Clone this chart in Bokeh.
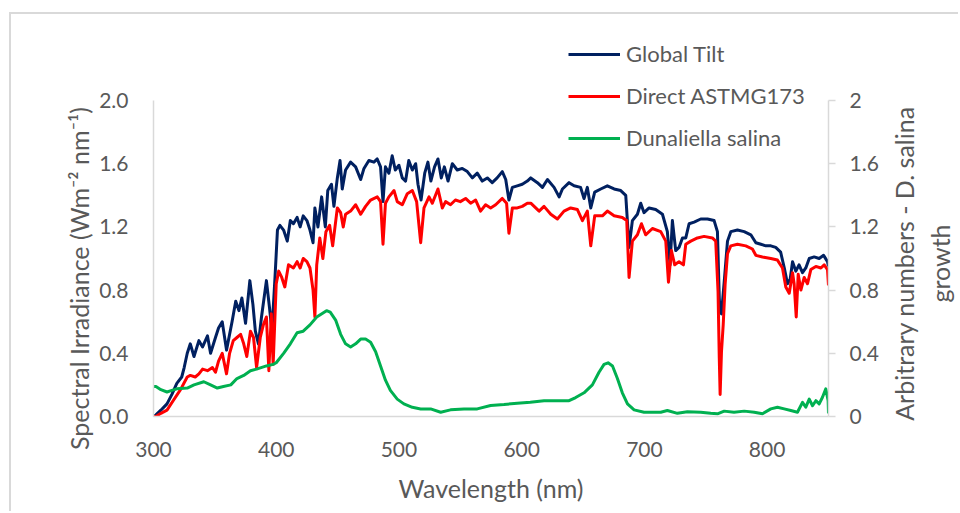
import math
from bokeh.plotting import figure
from bokeh.models import (Range1d, LinearAxis, FixedTicker, Legend, LegendItem, Label,
                          CustomJSTickFormatter)
from bokeh.embed import file_html
from bokeh.resources import INLINE

# Solar spectra (W m^-2 nm^-1) and D. salina growth response (arbitrary units)
wl_global = [300, 302, 306, 311, 315, 319, 323, 325, 327.5, 330, 333, 337, 340, 344, 346.5,
             350.5, 353, 356, 359.5, 364, 367, 369.6, 372, 375, 378.5, 381, 383, 385.5, 388,
             392, 394.5, 396.5, 399, 401, 403, 406, 409, 411.5, 414, 417, 419.5, 422, 425,
             427.5, 430, 431.5, 434, 437, 440, 442, 445, 447, 449.8, 452, 453.8, 456.5, 460.6,
             464.7, 468.8, 471.5, 475.5, 479.6, 482.3, 485, 487, 489, 491.8, 494.5, 497, 500,
             502.7, 505.4, 508, 510.9, 513.6, 515.5, 518, 521, 523.6, 526, 529, 531.8, 534.5,
             537, 540, 543.5, 547.5, 551.6, 555.7, 559.8, 563.8, 567.9, 572, 576, 580, 584.2,
             587, 589.6, 592.4, 596.4, 600.5, 604.6, 607.4, 612.8, 616.9, 621, 626.4, 630.5,
             633.2, 638.6, 642.7, 648, 650.8, 653.5, 656.3, 659.5, 664.4, 669.8, 675.3, 680.7,
             684.8, 687.5, 690.2, 694.3, 697, 699.7, 703.8, 709.2, 714.7, 718.7, 720.9, 722.8,
             725.5, 728.2, 731, 733.7, 736.4, 740.5, 745.9, 751.4, 756.8, 759.5, 761, 761.7,
             762.8, 765, 767.7, 770.4, 775.8, 781.3, 786.7, 790.8, 794.9, 799, 803, 807, 811,
             814, 816.6, 818.8, 820.7, 823.4, 826, 828.8, 831.5, 834.3, 838.3, 842.4, 846,
             849.2, 850]
global_tilt = [0.00, 0.01, 0.04, 0.08, 0.14, 0.21, 0.25, 0.31, 0.40, 0.46, 0.38, 0.48, 0.44,
               0.51, 0.40, 0.50, 0.56, 0.60, 0.42, 0.60, 0.73, 0.67, 0.75, 0.59, 0.86, 0.71,
               0.54, 0.46, 0.63, 0.86, 0.69, 0.54, 0.88, 1.18, 1.21, 1.18, 1.11, 1.24, 1.22,
               1.26, 1.20, 1.27, 1.24, 1.18, 1.10, 1.32, 1.20, 1.39, 1.20, 1.43, 1.47, 1.33,
               1.51, 1.62, 1.44, 1.56, 1.61, 1.58, 1.50, 1.57, 1.62, 1.61, 1.63, 1.58, 1.36,
               1.58, 1.54, 1.65, 1.56, 1.59, 1.51, 1.49, 1.62, 1.56, 1.60, 1.47, 1.37, 1.54,
               1.61, 1.49, 1.58, 1.63, 1.51, 1.58, 1.49, 1.60, 1.56, 1.57, 1.55, 1.51, 1.54,
               1.49, 1.51, 1.48, 1.51, 1.55, 1.50, 1.37, 1.45, 1.46, 1.47, 1.49, 1.51, 1.48,
               1.45, 1.50, 1.45, 1.39, 1.44, 1.48, 1.46, 1.45, 1.38, 1.45, 1.32, 1.42, 1.44,
               1.46, 1.44, 1.43, 1.40, 1.07, 1.24, 1.28, 1.35, 1.29, 1.32, 1.31, 1.28, 1.17,
               0.96, 1.24, 1.05, 1.07, 1.13, 1.13, 1.22, 1.23, 1.25, 1.25, 1.24, 1.17, 0.75,
               0.66, 0.65, 0.85, 1.11, 1.17, 1.18, 1.17, 1.15, 1.10, 1.09, 1.08, 1.08, 1.07,
               1.04, 0.94, 0.84, 0.87, 0.98, 0.92, 0.96, 0.91, 0.94, 1.00, 1.01, 1.00, 1.02,
               0.98, 0.95]

wl_direct = [300, 302, 306, 311, 316, 322, 327.5, 330, 334, 337, 340, 344, 348, 350.5, 353,
             356, 359.5, 362, 365, 368, 371, 373.5, 376, 379, 381.5, 384, 387, 389.5, 392, 394,
             396, 397.5, 400, 402, 404.5, 407, 410, 414, 417, 419.5, 422, 425, 427.5, 430,
             431.5, 433, 435.5, 438, 440.5, 443.5, 446, 449.8, 452.5, 454.6, 456.5, 460.6,
             464.7, 468.8, 472.8, 476.9, 482.3, 485, 487, 489, 491.8, 496, 498.6, 502.7, 506.8,
             510.9, 514.4, 517.7, 520.4, 524.5, 527.2, 531.8, 535.3, 538, 542, 546, 550, 554.3,
             558.4, 562.5, 566.5, 570.6, 574.7, 578.8, 584.2, 587.7, 589.6, 592.4, 596.4, 600.5,
             604.6, 607.4, 614.2, 618.2, 623.7, 629.1, 634.5, 639.9, 645.4, 649.5, 653.5, 656.3,
             659.5, 665.8, 669.8, 675.3, 682, 685.6, 687.5, 690.2, 694.3, 697.6, 701, 706.5,
             713.3, 717.4, 719.6, 722, 724.7, 728.2, 731.8, 733.7, 737.8, 743.2, 748.6, 755.4,
             758.1, 760, 761, 761.7, 762.8, 764.2, 765.8, 767.7, 770.4, 775.8, 782.6, 788,
             790.8, 796.2, 803, 808.4, 812.5, 815.2, 818, 820.7, 822, 823.7, 825.3, 827.5,
             830.2, 832.9, 835.6, 839.7, 843.8, 846.5, 849.2, 850]
direct_astmg173 = [0.00, 0.00, 0.02, 0.04, 0.10, 0.17, 0.25, 0.26, 0.25, 0.27, 0.30, 0.29,
                   0.31, 0.28, 0.35, 0.40, 0.27, 0.40, 0.48, 0.50, 0.52, 0.46, 0.38, 0.54,
                   0.50, 0.31, 0.50, 0.58, 0.63, 0.29, 0.65, 0.33, 0.84, 0.92, 0.88, 0.82,
                   0.96, 0.94, 0.98, 0.94, 1.00, 0.98, 0.94, 0.80, 0.63, 0.96, 1.13, 1.00,
                   1.17, 1.21, 1.08, 1.32, 1.29, 1.20, 1.28, 1.30, 1.34, 1.28, 1.33, 1.37,
                   1.39, 1.36, 1.09, 1.35, 1.39, 1.43, 1.36, 1.34, 1.41, 1.43, 1.36, 1.10,
                   1.32, 1.39, 1.35, 1.44, 1.32, 1.36, 1.34, 1.37, 1.36, 1.38, 1.35, 1.37,
                   1.30, 1.34, 1.32, 1.34, 1.38, 1.35, 1.16, 1.32, 1.32, 1.33, 1.35, 1.35,
                   1.30, 1.33, 1.28, 1.25, 1.30, 1.32, 1.31, 1.24, 1.30, 1.08, 1.27, 1.27,
                   1.30, 1.27, 1.26, 1.24, 0.88, 1.11, 1.15, 1.22, 1.15, 1.19, 1.17, 1.11,
                   0.85, 1.05, 0.96, 0.98, 0.96, 1.09, 1.11, 1.13, 1.14, 1.13, 1.11, 0.79,
                   0.37, 0.14, 0.41, 0.58, 0.84, 1.03, 1.08, 1.09, 1.08, 1.06, 1.02, 1.01,
                   1.00, 0.99, 0.94, 0.82, 0.78, 0.91, 0.84, 0.63, 0.90, 0.80, 0.88, 0.84,
                   0.93, 0.95, 0.94, 0.96, 0.93, 0.83]

wl_salina = [300, 302, 306, 311, 315, 319, 327.5, 333, 341, 346.5, 352, 357, 363, 368, 373.5,
             379, 384, 392, 397.5, 400, 406, 411.5, 417, 422, 427.5, 433, 441, 444, 448.4,
             452.5, 456.5, 460.6, 464.7, 468.8, 472.8, 476.9, 481, 485, 489, 493, 498.6, 504,
             510.9, 517.7, 525.8, 534, 542, 553, 563.8, 574.7, 585.6, 596.4, 607, 618.2, 629,
             638.6, 644, 650.8, 657.6, 663, 667.1, 670.4, 674, 678, 682, 686.2, 691.6, 699.7,
             713.3, 718.7, 726.9, 735, 745.9, 754, 759.5, 765, 773, 781.3, 789.5, 796.2, 803,
             808.4, 813.9, 819.3, 824.7, 828.8, 831.5, 834.3, 837, 839.7, 842.4, 845, 847.8,
             849.7, 850]
salina_growth = [0.19, 0.19, 0.17, 0.155, 0.165, 0.175, 0.18, 0.20, 0.22, 0.20, 0.18, 0.19,
                 0.20, 0.24, 0.26, 0.29, 0.30, 0.32, 0.33, 0.34, 0.40, 0.46, 0.53, 0.54, 0.58,
                 0.63, 0.67, 0.66, 0.61, 0.52, 0.46, 0.44, 0.46, 0.49, 0.49, 0.47, 0.41, 0.32,
                 0.23, 0.165, 0.11, 0.08, 0.058, 0.048, 0.048, 0.027, 0.042, 0.048, 0.048,
                 0.07, 0.076, 0.084, 0.09, 0.10, 0.10, 0.10, 0.12, 0.15, 0.20, 0.28, 0.33,
                 0.34, 0.32, 0.24, 0.15, 0.08, 0.042, 0.027, 0.027, 0.038, 0.02, 0.03, 0.027,
                 0.02, 0.017, 0.034, 0.027, 0.034, 0.027, 0.017, 0.048, 0.059, 0.048, 0.038,
                 0.027, 0.089, 0.059, 0.11, 0.068, 0.10, 0.08, 0.12, 0.175, 0.10, 0.02]

x_ticks = [300, 400, 500, 600, 700, 800]
y_ticks = [0.0, 0.4, 0.8, 1.2, 1.6, 2.0]

FONT = "Lato"
TXT = "#595959"
AX = "#d9d9d9"

# The frame reaches above the 2.0 gridline so that the legend (which sits partly
# above the plotted area) is not clipped; the axes themselves stop at 2.0.
FRAME_H = 376
AXIS_PX = 316
Y_TOP = 2.0 * FRAME_H / AXIS_PX

p = figure(width=949, height=499, output_backend="svg", toolbar_location=None,
           x_range=Range1d(300, 850), y_range=Range1d(0, Y_TOP),
           min_border_left=142, min_border_right=132, min_border_top=26, min_border_bottom=97,
           background_fill_color="white", border_fill_color="white")
# chart-area frame: light grey rule along the top and left edges
p.styles = {"margin-left": "9px", "margin-top": "12px",
            "border-left": "2px solid #d9d9d9", "border-top": "2px solid #d9d9d9"}
p.outline_line_color = None
p.grid.visible = False
p.extra_y_ranges = {"growth": Range1d(0, Y_TOP)}


def style_axis(ax):
    ax.axis_line_color = AX
    ax.axis_line_width = 1.5
    ax.major_label_text_font = FONT
    ax.major_label_text_font_size = "21px"
    ax.major_label_text_color = TXT
    ax.axis_label_text_font = FONT
    ax.axis_label_text_font_size = "25px"
    ax.axis_label_text_color = TXT
    ax.axis_label_text_font_style = "normal"
    ax.minor_tick_line_color = None


xa = p.xaxis[0]
style_axis(xa)
xa.ticker = FixedTicker(ticks=x_ticks)
xa.major_tick_line_color = None
xa.major_label_standoff = 19
xa.axis_label = "Wavelength (nm)"
xa.axis_label_standoff = 13

ya = p.yaxis[0]
style_axis(ya)
ya.bounds = (0, 2)
ya.ticker = FixedTicker(ticks=y_ticks)
ya.major_tick_line_color = None
ya.major_label_standoff = 19
ya.formatter = CustomJSTickFormatter(code="return tick.toFixed(1);")

ra = LinearAxis(y_range_name="growth")
style_axis(ra)
ra.bounds = (0, 2)
ra.ticker = FixedTicker(ticks=y_ticks)
ra.major_tick_line_color = AX
ra.major_tick_line_width = 1.5
ra.major_tick_out = 7
ra.major_tick_in = 0
ra.major_label_standoff = 14
ra.formatter = CustomJSTickFormatter(code="return String(parseFloat(tick.toFixed(1)));")
p.add_layout(ra, "right")

# axis titles, both reading bottom-to-top; set in the side panels beside each axis
irradiance_title = Label(x=12, y=138, x_units="screen", y_units="screen",
                         text="Spectral Irradiance (Wm\u207b\u00b2 nm\u207b\u00b9)",
                         angle=math.pi / 2, text_align="center", text_baseline="middle",
                         text_font=FONT, text_font_size="25px", text_color=TXT)
p.add_layout(irradiance_title, "left")

growth_title = Label(x=40, y=153, x_units="screen", y_units="screen",
                     text="Arbitrary numbers - D. salina\ngrowth", angle=math.pi / 2,
                     text_align="center", text_baseline="middle",
                     text_font=FONT, text_font_size="25px", text_color=TXT)
p.add_layout(growth_title, "right")

r_g = p.line(wl_global, global_tilt, line_color="#002060", line_width=3, line_join="round")
r_d = p.line(wl_direct, direct_astmg173, line_color="#ff0000", line_width=3, line_join="round")
r_s = p.line(wl_salina, salina_growth, line_color="#00b050", line_width=3, line_join="round",
             y_range_name="growth")

# legend at the upper right; location is its lower-left corner, from the frame's lower-left
legend = Legend(items=[LegendItem(label="Global Tilt", renderers=[r_g]),
                       LegendItem(label="Direct ASTMG173", renderers=[r_d]),
                       LegendItem(label="Dunaliella salina", renderers=[r_s])],
                location=(415, 265), orientation="vertical",
                glyph_width=52, glyph_height=26, label_height=26, label_standoff=6,
                spacing=15, padding=0, margin=0,
                border_line_color=None, background_fill_alpha=0,
                label_text_font=FONT, label_text_font_size="22px", label_text_color=TXT)
p.add_layout(legend, "center")

open("out.html", "w").write(file_html(p, INLINE))
